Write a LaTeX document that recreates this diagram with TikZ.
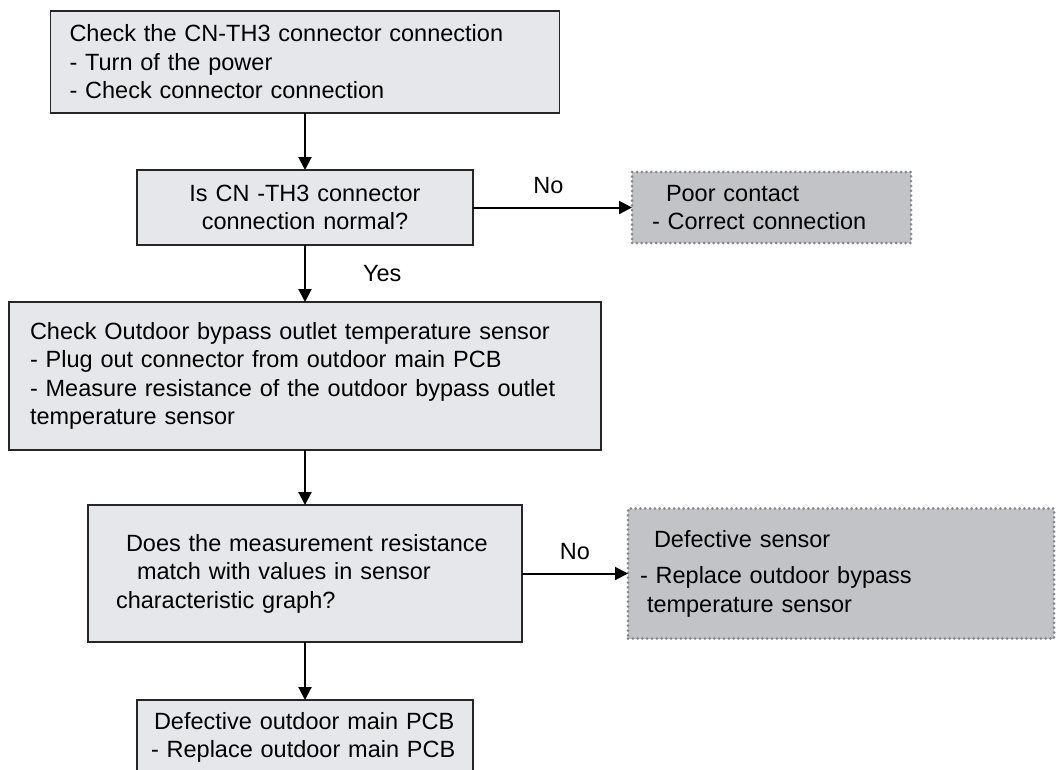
\documentclass[tikz,border=0pt]{standalone}
\usepackage{fontspec}
\setmainfont{Liberation Sans}
\usetikzlibrary{arrows.meta, positioning}
\definecolor{boxgray}{HTML}{E6E7EB}
\definecolor{faultgray}{HTML}{C1C3C7}
\definecolor{dotgray}{HTML}{85888C}

\begin{document}
\begin{tikzpicture}[x=1pt, y=-1pt,
    box/.style={draw=black!85, line width=1.4pt, fill=boxgray, outer sep=0pt, inner ysep=0pt, align=left, font=\fontsize{23.5}{28.5}\selectfont},
    qbox/.style={box, align=center},
    fault/.style={fill=faultgray, draw=dotgray, line width=3pt, dash pattern=on 0pt off 4.8pt, line cap=round, outer sep=0pt, inner ysep=0pt, align=left, font=\fontsize{23.5}{28.5}\selectfont},
    arr/.style={-{Triangle[length=13pt, width=13pt]}, line width=2pt},
    lbl/.style={inner sep=0pt, font=\fontsize{23.5}{28.5}\selectfont},
]
\useasboundingbox (0,0) rectangle (1060,769);
\clip (0,0) rectangle (1060,769);

\node[box, anchor=north, inner xsep=19pt, text width=471pt, minimum height=102pt] (chk) at (305,11)
    {Check the CN-TH3 connector connection\\- Turn of the power\\- Check connector connection};
\node[qbox, below=57pt of chk, inner xsep=10pt, text width=316pt, minimum height=75pt] (ask)
    {Is CN -TH3 connector\\connection normal?};
\node[fault, right=159pt of ask, inner xsep=20pt, text width=239pt, minimum height=71pt] (contact)
    {\hspace*{14pt}Poor contact\\- Correct connection};

\node[box, below=57pt of ask, inner xsep=21pt, text width=550pt, minimum height=148pt] (test)
    {Check Outdoor bypass outlet temperature sensor\\- Plug out connector from outdoor main PCB\\- Measure resistance of the outdoor bypass outlet\\temperature sensor};
\node[box, below=55pt of test, inner xsep=20pt, text width=394pt, minimum height=137pt] (match)
    {\hspace*{18pt}Does the measurement resistance\\\hspace*{29pt}match with values in sensor\\\hspace*{8pt}characteristic graph?};
\node[fault, right=106pt of match, inner xsep=12pt, text width=402pt, minimum height=130pt] (sensor)
    {\hspace*{14pt}Defective sensor\\[8pt]- Replace outdoor bypass\\\hspace*{7pt}temperature sensor};

\node[box, below=58pt of match, inner xsep=14pt, text width=308pt, minimum height=75pt] (pcb)
    {\hspace*{3pt}Defective outdoor main PCB\\- Replace outdoor main PCB};

\draw[arr] (chk.south) -- (ask.north);
\draw[arr] (ask) -- node[lbl, above=13pt, xshift=-4pt] {No} (contact);
\draw[arr] (ask.south) -- node[lbl, right=57pt] {Yes} (test.north);
\draw[arr] (test.south) -- (match.north);
\draw[arr] (match) -- node[lbl, above=13pt] {No} (sensor);
\draw[arr] (match.south) -- (pcb.north);

\end{tikzpicture}
\end{document}
